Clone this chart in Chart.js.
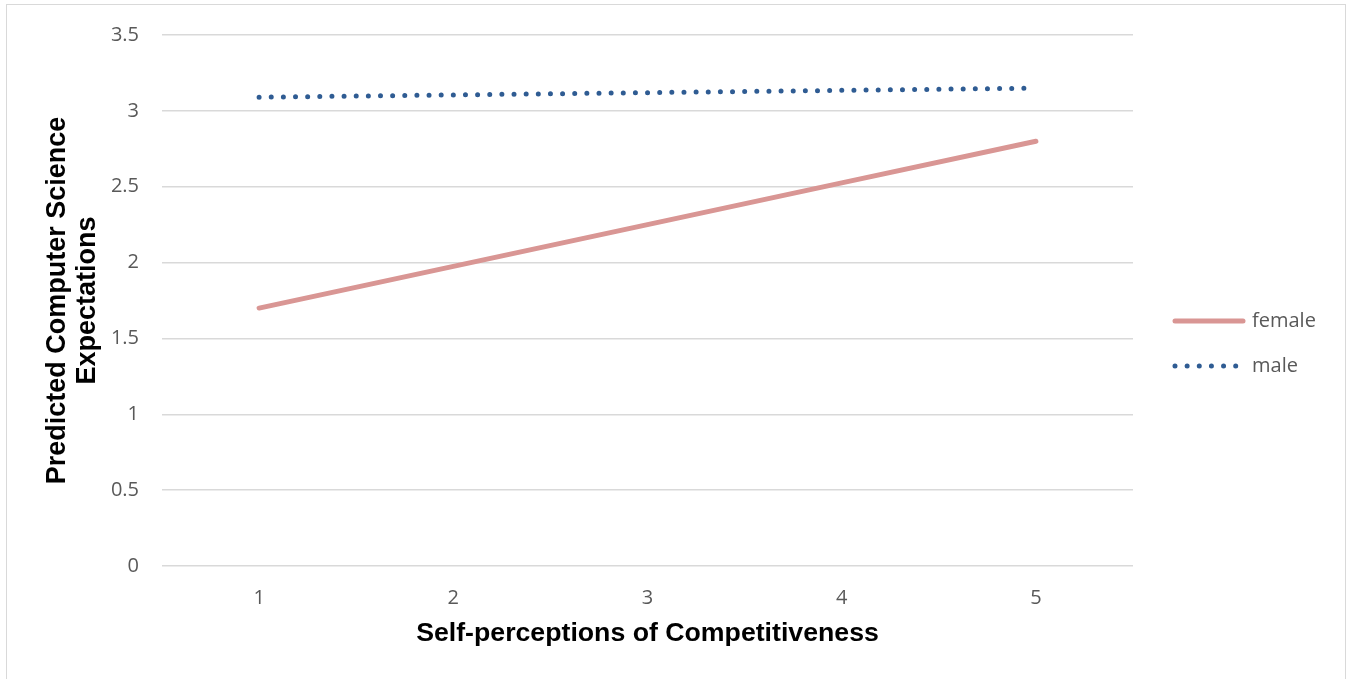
<!DOCTYPE html>
<html><head><meta charset="utf-8">
<script src="https://cdn.jsdelivr.net/npm/chart.js@4"></script>
<style>
html,body{margin:0;padding:0;background:#fff;overflow:hidden}
#wrap{position:relative;width:1349px;height:679px;}
#frame{position:absolute;left:6px;top:4px;width:1340px;height:690px;border:1.5px solid #d9d9d9;box-sizing:border-box;pointer-events:none}
canvas{position:absolute;left:0;top:0}
</style></head><body>
<div id="wrap"><canvas id="c" width="1349" height="679"></canvas><div id="frame"></div></div>
<script>
const categories = ['1','2','3','4','5'];
const femaleValues = [1.70, 1.975, 2.25, 2.525, 2.80];
const maleValues = [3.09, 3.105, 3.12, 3.135, 3.15];
const yTickValues = [0, 0.5, 1, 1.5, 2, 2.5, 3, 3.5];
const seriesNames = ['female', 'male'];
const xTitle = 'Self-perceptions of Competitiveness';
const yTitle = ['Predicted Computer Science', 'Expectations'];

const FEMALE_COLOR = '#D99694';
const MALE_COLOR = '#2F5C93';
const TICK_COLOR = '#595959';
const LABEL_FONT = "'Open Sans', 'Noto Sans', sans-serif";
const TITLE_FONT = "'Liberation Sans', Arial, sans-serif";

const legendPlugin = {
  id: 'sideLegend',
  afterDraw(chart) {
    const ctx = chart.ctx;
    const x0 = 1175, x1 = 1243, textX = 1252;
    const rows = [321, 366];
    chart.data.datasets.forEach((ds, i) => {
      const y = rows[i];
      ctx.save();
      ctx.strokeStyle = ds.borderColor;
      ctx.lineWidth = ds.borderWidth;
      ctx.lineCap = 'round';
      ctx.setLineDash(ds.borderDash || []);
      ctx.beginPath();
      ctx.moveTo(x0, y);
      ctx.lineTo(x1, y);
      ctx.stroke();
      ctx.setLineDash([]);
      ctx.fillStyle = TICK_COLOR;
      ctx.font = "20px " + LABEL_FONT;
      ctx.textBaseline = 'middle';
      ctx.textAlign = 'left';
      ctx.fillText(ds.label, textX, y);
      ctx.restore();
    });
  }
};

new Chart(document.getElementById('c'), {
  type: 'line',
  data: {
    labels: categories,
    datasets: [
      { label: seriesNames[0], data: femaleValues, borderColor: FEMALE_COLOR, backgroundColor: FEMALE_COLOR,
        borderWidth: 5, borderCapStyle: 'round', pointRadius: 0, tension: 0, fill: false },
      { label: seriesNames[1], data: maleValues, borderColor: MALE_COLOR, backgroundColor: MALE_COLOR,
        borderWidth: 5, borderDash: [0, 12.14], borderCapStyle: 'round', pointRadius: 0, tension: 0, fill: false }
    ]
  },
  options: {
    responsive: false,
    animation: false,
    devicePixelRatio: 1,
    layout: { padding: { left: 0, right: 216, top: 34, bottom: 29 } },
    plugins: { legend: { display: false }, tooltip: { enabled: false } },
    scales: {
      x: {
        offset: true,
        grid: { display: false, drawTicks: false },
        border: { display: false },
        ticks: { color: TICK_COLOR, font: { family: LABEL_FONT, size: 20 }, padding: 20 },
        title: { display: true, text: xTitle, color: '#000', font: { family: TITLE_FONT, size: 26.7, weight: 'bold', lineHeight: 1.2 }, padding: { top: 0, bottom: 0 } },
        afterFit(axis) { axis.height = 84; }
      },
      y: {
        min: 0, max: 3.5,
        afterBuildTicks(axis) { axis.ticks = yTickValues.map(v => ({ value: v })); },
        grid: { color: '#D9D9D9', lineWidth: 1.5, drawTicks: false },
        border: { display: false },
        ticks: { color: TICK_COLOR, font: { family: LABEL_FONT, size: 20 }, padding: 23, callback: v => String(v) },
        title: { display: true, text: yTitle, color: '#000', font: { family: TITLE_FONT, size: 27, weight: 'bold', lineHeight: 1.11 }, padding: { top: 42.5, bottom: 0 } },
        afterFit(axis) { axis.width = 162; }
      }
    }
  },
  plugins: [legendPlugin]
});
</script>
</body></html>
